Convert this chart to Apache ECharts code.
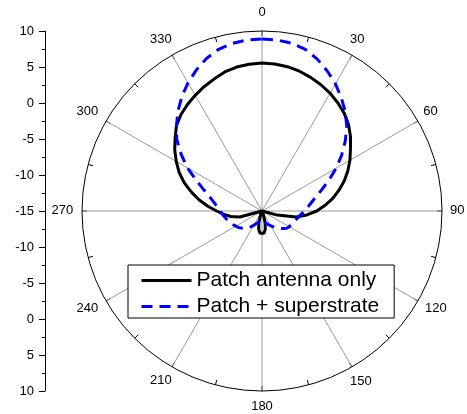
<!DOCTYPE html>
<html>
<head>
<meta charset="utf-8">
<script src="https://cdn.jsdelivr.net/npm/echarts@6/dist/echarts.min.js"></script>
<style>
html,body{margin:0;padding:0;background:#fff;}
#chart{width:467px;height:414px;}
</style>
</head>
<body>
<div id="chart"></div>
<script>
// Angles in degrees (clockwise from top)
const angles = [0,5,10,15,20,25,30,35,40,45,50,55,60,65,70,75,80,85,90,95,100,105,110,115,120,125,130,135,140,145,150,155,160,165,170,175,180,
185,190,195,200,205,210,215,220,225,230,235,240,245,250,255,260,265,270,275,280,285,290,295,300,305,310,315,320,325,330,335,340,345,350,355,360];

// Gain (dB) - Patch antenna only
const patchOnly = [5.55,5.5,5.35,5.1,4.75,4.35,3.9,3.35,2.75,2.0,1.05,0.0,-0.9,-1.85,-2.85,-3.95,-5.05,-6.25,-7.4,-8.75,-10.2,-12.8,-15,-15,-15,-15,-15,-15,-15,-15,-15,-15,-14.4,-13.3,-12.4,-11.9,-11.7,
-11.9,-12.4,-13.3,-14.4,-15,-15,-15,-15,-15,-15,-15,-15,-15,-15,-11.8,-10.6,-9.7,-8.7,-7.45,-6.15,-4.85,-3.5,-2.3,-1.25,-0.2,0.75,1.8,2.5,3.05,3.55,4.05,4.5,5.0,5.3,5.45,5.55];

// Gain (dB) - Patch + superstrate
const patchSuper = [8.9,8.85,8.65,8.25,7.45,6.45,5.4,4.2,3.0,1.65,0.1,-1.5,-3.1,-4.7,-6.1,-7.2,-8.0,-8.6,-9.1,-9.55,-9.9,-10.15,-10.35,-10.5,-10.65,-10.8,-11.2,-11.6,-12.0,-12.35,-12.65,-12.9,-13.05,-13.3,-13.55,-13.75,-13.8,
-13.8,-13.7,-13.5,-13.25,-13.0,-12.7,-12.35,-11.95,-11.6,-11.3,-11.0,-10.8,-10.55,-10.3,-10.05,-9.8,-9.5,-9.2,-8.8,-8.25,-7.5,-6.4,-4.95,-3.05,-1.3,0.45,1.8,3.15,4.4,5.55,6.6,7.55,8.25,8.65,8.85,8.9];

// Left scale tick labels (bottom to top)
const scaleLabels = ['10','5','0','-5','-10','-15','-10','-5','0','5','10'];
const seriesNames = ['Patch antenna only','Patch + superstrate'];

const FONT = 'Liberation Sans, Arial, sans-serif';

const labelRich = {
  l0:   {padding:[0,0,18,0]},
  l30:  {padding:[0,0,14,1]},
  l60:  {padding:[0,0,6,10.6]},
  l90:  {padding:[0,0,2,14]},
  l120: {padding:[3.8,0,0,12.3]},
  l150: {padding:[13.5,0,0,1]},
  l180: {padding:[15.2,0,0,0]},
  l210: {padding:[12.6,3.3,0,0]},
  l240: {padding:[3.8,13,0,0]},
  l270: {padding:[0,14.7,2,0]},
  l300: {padding:[0,13,6,0]},
  l330: {padding:[0,3.3,14,0]}
};
Object.keys(labelRich).forEach(k => {
  labelRich[k].fontSize = 13; labelRich[k].color = '#000'; labelRich[k].fontFamily = FONT;
});

const chart = echarts.init(document.getElementById('chart'), null, {renderer:'canvas'});
chart.setOption({
  animation: false,
  backgroundColor: '#fff',
  polar: { center: [262, 211], radius: 180 },
  angleAxis: {
    type: 'value', min: 0, max: 360, interval: 30,
    startAngle: 90, clockwise: true,
    axisLine: { show: true, lineStyle: { color: '#000', width: 1 } },
    axisTick: { show: true, inside: true, length: 5, lineStyle: { color: '#000', width: 1 } },
    minorTick: { show: true, splitNumber: 2, length: 5, lineStyle: { color: '#000', width: 1 } },
    splitLine: { show: true, lineStyle: { color: '#9a9a9a', width: 1 } },
    axisLabel: {
      margin: -6, fontSize: 13, color: '#000', fontFamily: FONT,
      formatter: v => '{l' + v + '|' + v + '}',
      rich: labelRich
    }
  },
  radiusAxis: { type: 'value', min: -15, max: 10, show: false },
  grid: { left: 45, top: 31, width: 10, height: 360 },
  xAxis: { type: 'value', show: false },
  yAxis: {
    type: 'value', min: -25, max: 25, interval: 5,
    axisLine: { show: true, lineStyle: { color: '#000', width: 1 } },
    axisTick: { show: true, inside: false, length: 6, lineStyle: { color: '#000', width: 1 } },
    minorTick: { show: true, splitNumber: 2, length: 3, lineStyle: { color: '#000', width: 1 } },
    splitLine: { show: false },
    axisLabel: {
      margin: 11, fontSize: 13, color: '#000', fontFamily: FONT,
      formatter: v => scaleLabels[Math.round((v + 25) / 5)]
    }
  },
  legend: {
    orient: 'vertical', left: 128, top: 265,
    padding: [5, 15, 1, 12], itemGap: 5,
    itemWidth: 50, itemHeight: 14,
    borderColor: '#000', borderWidth: 1, backgroundColor: '#fff',
    lineStyle: { width: 3 },
    itemStyle: { opacity: 0 },
    textStyle: { fontSize: 21, color: '#000', fontFamily: FONT },
    data: seriesNames
  },
  series: [
    {
      name: seriesNames[0], type: 'line', coordinateSystem: 'polar',
      symbol: 'none', smooth: false,
      lineStyle: { color: '#000', width: 3 },
      itemStyle: { color: '#000' },
      data: angles.map((a, i) => [patchOnly[i], a])
    },
    {
      name: seriesNames[1], type: 'line', coordinateSystem: 'polar',
      symbol: 'none', smooth: false,
      lineStyle: { color: '#0000ff', width: 3, type: [11, 7] },
      itemStyle: { color: '#0000ff' },
      data: angles.map((a, i) => [patchSuper[i], a])
    }
  ]
});
</script>
</body>
</html>
